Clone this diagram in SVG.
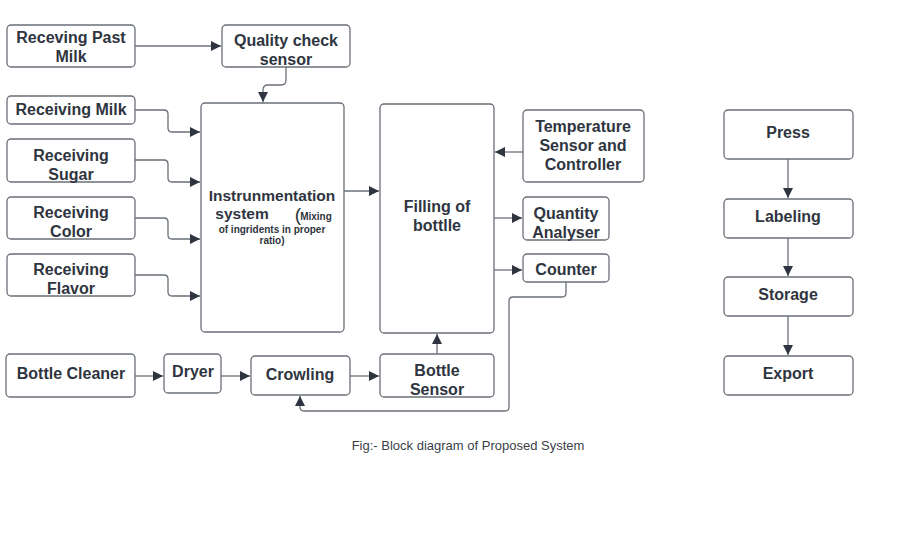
<svg xmlns="http://www.w3.org/2000/svg" width="901" height="536" viewBox="0 0 901 536">
<defs>
<style>
.b{fill:#fff;stroke:#6a7079;stroke-width:1.3}
.t{font-family:"Liberation Sans",Arial,sans-serif;font-weight:bold;font-size:16px;fill:#2f3540;text-anchor:middle}
.c{fill:none;stroke:#6a7079;stroke-width:1.3}
.s{font-size:10px}
.cap{font-family:"Liberation Sans",Arial,sans-serif;font-size:13px;fill:#3a3f47;text-anchor:middle}
</style>
<marker id="a" viewBox="0 0 10 10" refX="10" refY="5" markerWidth="10" markerHeight="10" markerUnits="userSpaceOnUse" orient="auto">
<path d="M0,0 L10,5 L0,10 Z" fill="#2f3540"/>
</marker>
</defs>
<rect width="901" height="536" fill="#fff"/>
<g id="connectors">
<path class="c" d="M135,46 H221" marker-end="url(#a)"/>
<path class="c" d="M286,67 V80 Q286,85 281,85 H268 Q263,85 263,90 V102" marker-end="url(#a)"/>
<path class="c" d="M135,110 H164 Q168,110 168,114 V128 Q168,132 172,132 H200" marker-end="url(#a)"/>
<path class="c" d="M135,160 H164 Q168,160 168,164 V178 Q168,182 172,182 H200" marker-end="url(#a)"/>
<path class="c" d="M135,218 H164 Q168,218 168,222 V235 Q168,239 172,239 H200" marker-end="url(#a)"/>
<path class="c" d="M135,275 H164 Q168,275 168,279 V292 Q168,296 172,296 H200" marker-end="url(#a)"/>
<path class="c" d="M344,191 H379" marker-end="url(#a)"/>
<path class="c" d="M523,152 H495" marker-end="url(#a)"/>
<path class="c" d="M494,218 H522" marker-end="url(#a)"/>
<path class="c" d="M494,270 H522" marker-end="url(#a)"/>
<path class="c" d="M566,282 V293 Q566,297 562,297 H513 Q509,297 509,301 V407 Q509,411 505,411 H304 Q300,411 300,407 V396" marker-end="url(#a)"/>
<path class="c" d="M135,376 H163" marker-end="url(#a)"/>
<path class="c" d="M221,376 H250" marker-end="url(#a)"/>
<path class="c" d="M350,376 H379" marker-end="url(#a)"/>
<path class="c" d="M437,354 V334" marker-end="url(#a)"/>
<path class="c" d="M788,159 V198" marker-end="url(#a)"/>
<path class="c" d="M788,238 V276" marker-end="url(#a)"/>
<path class="c" d="M788,316 V355" marker-end="url(#a)"/>
</g>
<g id="past-milk"><rect class="b" x="7" y="25" width="128" height="42" rx="4"/><text class="t" x="71" y="43">Receving Past</text><text class="t" x="71" y="62">Milk</text></g>
<g id="quality"><rect class="b" x="222" y="25" width="128" height="42" rx="4"/><text class="t" x="286" y="46">Quality check</text><text class="t" x="286" y="65">sensor</text></g>
<g id="milk"><rect class="b" x="7" y="96" width="128" height="28" rx="4"/><text class="t" x="71" y="115">Receiving Milk</text></g>
<g id="sugar"><rect class="b" x="7" y="139" width="128" height="43" rx="4"/><text class="t" x="71" y="161">Receiving</text><text class="t" x="71" y="180">Sugar</text></g>
<g id="color"><rect class="b" x="7" y="197" width="128" height="42" rx="4"/><text class="t" x="71" y="218">Receiving</text><text class="t" x="71" y="237">Color</text></g>
<g id="flavor"><rect class="b" x="7" y="254" width="128" height="42" rx="4"/><text class="t" x="71" y="275">Receiving</text><text class="t" x="71" y="294">Flavor</text></g>
<g id="instrumentation"><rect class="b" x="201" y="103" width="143" height="229" rx="4"/>
<text class="t" x="272" y="201" style="font-size:15.5px">Instrunmentation</text>
<text class="t" x="242" y="219" style="font-size:15.5px">system</text>
<text class="t" x="298" y="221" style="font-size:19px;font-weight:normal">(</text>
<text class="t s" x="316" y="220">Mixing</text>
<text class="t s" x="272" y="233">of ingridents in proper</text>
<text class="t s" x="272" y="244">ratio)</text>
</g>
<g id="filling"><rect class="b" x="380" y="104" width="114" height="229" rx="4"/><text class="t" x="437" y="212">Filling of</text><text class="t" x="437" y="231">bottlle</text></g>
<g id="temperature"><rect class="b" x="523" y="110" width="121" height="72" rx="4"/><text class="t" x="583" y="132">Temperature</text><text class="t" x="583" y="151">Sensor and</text><text class="t" x="583" y="170">Controller</text></g>
<g id="quantity"><rect class="b" x="523" y="197" width="86" height="43" rx="4"/><text class="t" x="566" y="219">Quantity</text><text class="t" x="566" y="238">Analyser</text></g>
<g id="counter"><rect class="b" x="523" y="254" width="86" height="28" rx="4"/><text class="t" x="566" y="275">Counter</text></g>
<g id="bottle-cleaner"><rect class="b" x="6" y="354" width="129" height="43" rx="4"/><text class="t" x="71" y="379">Bottle Cleaner</text></g>
<g id="dryer"><rect class="b" x="164" y="354" width="57" height="39" rx="4"/><text class="t" x="193" y="377">Dryer</text></g>
<g id="crowling"><rect class="b" x="251" y="356" width="99" height="39" rx="4"/><text class="t" x="300" y="380">Crowling</text></g>
<g id="bottle-sensor"><rect class="b" x="380" y="354" width="114" height="43" rx="4"/><text class="t" x="437" y="376">Bottle</text><text class="t" x="437" y="395">Sensor</text></g>
<g id="press"><rect class="b" x="724" y="110" width="129" height="49" rx="4"/><text class="t" x="788" y="138">Press</text></g>
<g id="labeling"><rect class="b" x="724" y="199" width="129" height="39" rx="4"/><text class="t" x="788" y="222">Labeling</text></g>
<g id="storage"><rect class="b" x="724" y="277" width="129" height="39" rx="4"/><text class="t" x="788" y="300">Storage</text></g>
<g id="export"><rect class="b" x="724" y="356" width="129" height="39" rx="4"/><text class="t" x="788" y="379">Export</text></g>
<text class="cap" x="468" y="450">Fig:- Block diagram of Proposed System</text>
</svg>
